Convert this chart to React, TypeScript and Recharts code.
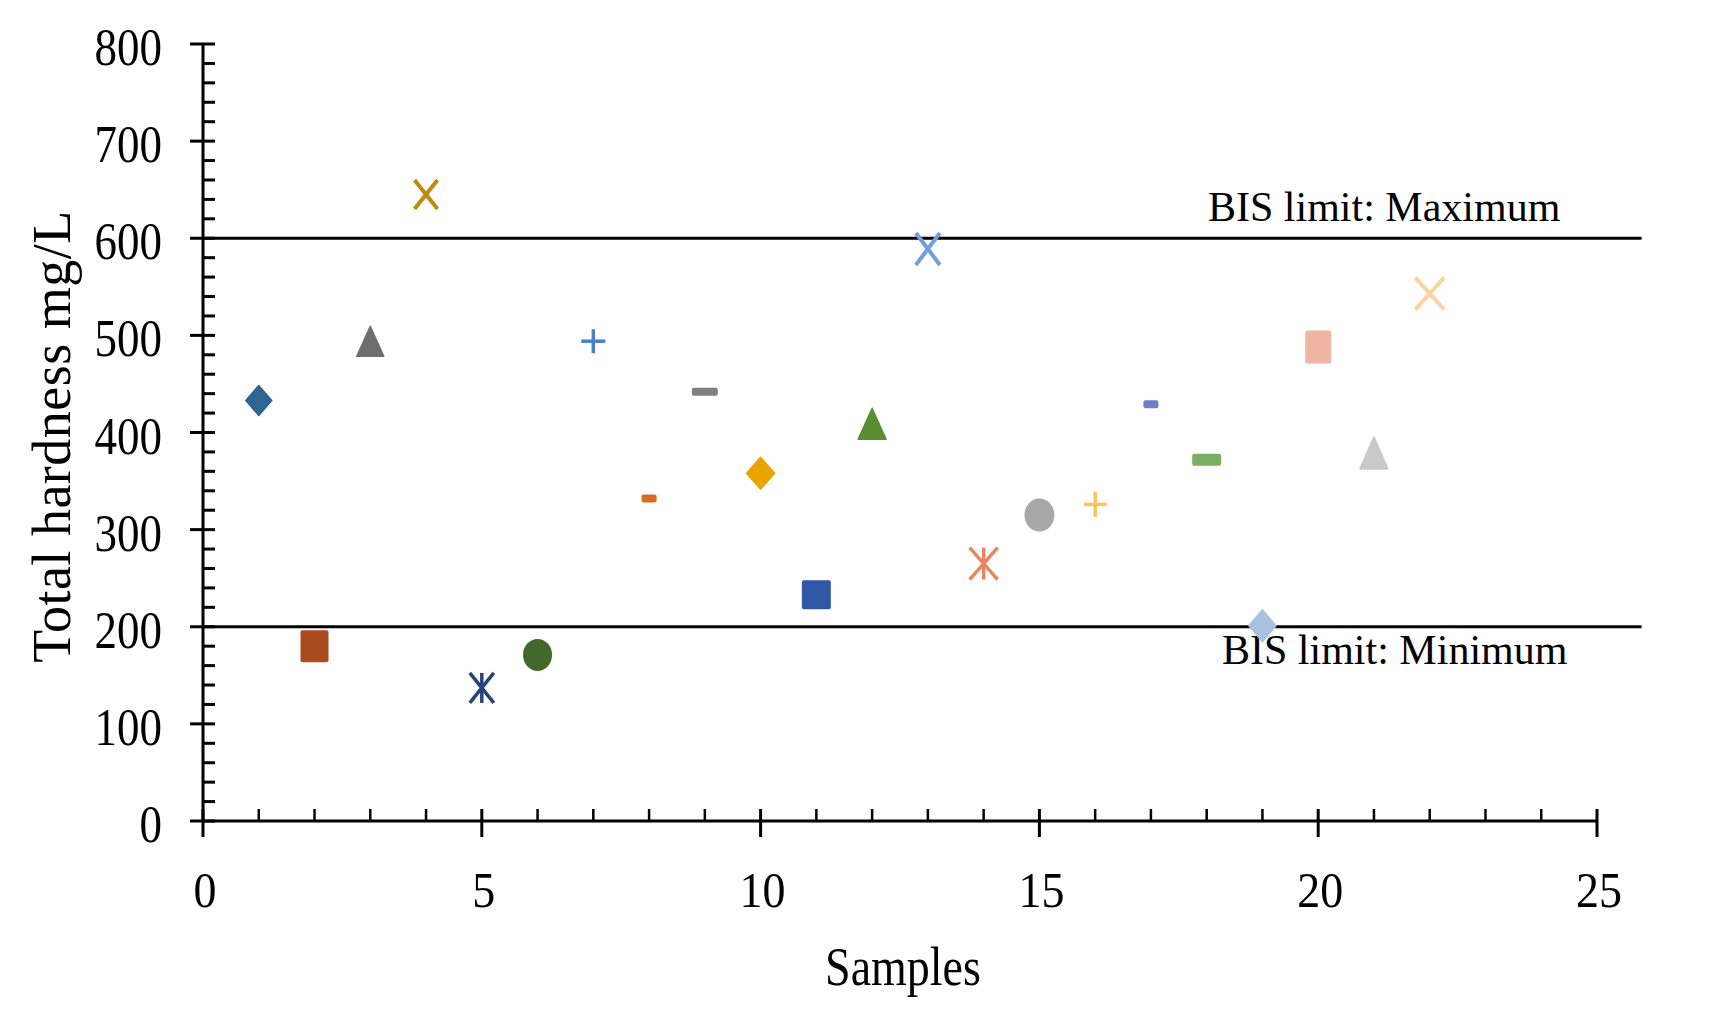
import React from 'react';
import { ScatterChart, Scatter, XAxis, YAxis, ReferenceLine } from 'recharts';

// ---------- data ----------
const SAMPLES = [1, 2, 3, 4, 5, 6, 7, 8, 9, 10, 11, 12, 13, 14, 15, 16, 17, 18, 19, 20, 21, 22];
const HARDNESS = [433, 180, 494, 645, 137, 171, 494, 332, 442, 358, 233, 409, 589, 265, 315, 326, 429, 372, 201, 488, 379, 543];

const X_TICKS = [0, 1, 2, 3, 4, 5, 6, 7, 8, 9, 10, 11, 12, 13, 14, 15, 16, 17, 18, 19, 20, 21, 22, 23, 24, 25];
const X_LABELED = [0, 5, 10, 15, 20, 25];
const Y_TICKS = [0, 20, 40, 60, 80, 100, 120, 140, 160, 180, 200, 220, 240, 260, 280, 300, 320, 340, 360, 380, 400,
  420, 440, 460, 480, 500, 520, 540, 560, 580, 600, 620, 640, 660, 680, 700, 720, 740, 760, 780, 800];
const Y_LABELED = [0, 100, 200, 300, 400, 500, 600, 700, 800];

const BIS_MAX = 600;
const BIS_MIN = 200;
const LIMIT_END_X = 25.8;
const LABEL_MAX = 'BIS limit: Maximum';
const LABEL_MIN = 'BIS limit: Minimum';
const X_TITLE = 'Samples';
const Y_TITLE = 'Total hardness mg/L';

// ---------- styles ----------
type Marker = { shape: string; color: string; w: number; h: number };
const MARKERS: Marker[] = [
  { shape: 'diamond', color: '#2E6593', w: 26, h: 30 },
  { shape: 'square', color: '#AA4B1E', w: 28, h: 32 },
  { shape: 'triangle', color: '#6E6E6E', w: 27, h: 30 },
  { shape: 'x', color: '#BF8A0F', w: 23, h: 29 },
  { shape: 'star', color: '#264478', w: 24, h: 30 },
  { shape: 'circle', color: '#43682B', w: 29, h: 32 },
  { shape: 'plus', color: '#4A80C8', w: 24, h: 24 },
  { shape: 'dash', color: '#D86A25', w: 15, h: 8 },
  { shape: 'dash', color: '#808080', w: 26, h: 8 },
  { shape: 'diamond', color: '#E8A500', w: 28, h: 32 },
  { shape: 'square', color: '#2F57A6', w: 29, h: 29 },
  { shape: 'triangle', color: '#5A8E32', w: 28, h: 31 },
  { shape: 'x', color: '#729FD8', w: 24, h: 32 },
  { shape: 'star', color: '#EB8460', w: 28, h: 32 },
  { shape: 'circle', color: '#A8A8A8', w: 30, h: 33 },
  { shape: 'plus', color: '#FFC35A', w: 23, h: 25 },
  { shape: 'dash', color: '#6C7FC6', w: 15, h: 8 },
  { shape: 'dash', color: '#7BAF68', w: 29, h: 12 },
  { shape: 'diamond', color: '#A9C0E0', w: 27, h: 32 },
  { shape: 'square', color: '#F0B5A2', w: 26, h: 33 },
  { shape: 'triangle', color: '#C9C9C9', w: 28, h: 32 },
  { shape: 'x', color: '#F9D49E', w: 29, h: 32 },
];

const FONT = '"Liberation Serif", "Times New Roman", serif';

function renderMarker(m: Marker) {
  return (props: any) => {
    const { cx, cy } = props;
    if (cx == null || cy == null) return <g />;
    const hw = m.w / 2;
    const hh = m.h / 2;
    switch (m.shape) {
      case 'diamond':
        return (
          <path
            d={`M${cx},${cy - hh} L${cx + hw},${cy} L${cx},${cy + hh} L${cx - hw},${cy} Z`}
            fill={m.color}
            stroke={m.color}
            strokeWidth={1.5}
            strokeLinejoin="round"
          />
        );
      case 'square':
        return <rect x={cx - hw} y={cy - hh} width={m.w} height={m.h} rx={2} fill={m.color} />;
      case 'triangle':
        return (
          <path
            d={`M${cx},${cy - hh} L${cx + hw},${cy + hh} L${cx - hw},${cy + hh} Z`}
            fill={m.color}
            stroke={m.color}
            strokeWidth={1.5}
            strokeLinejoin="round"
          />
        );
      case 'circle':
        return <ellipse cx={cx} cy={cy} rx={hw} ry={hh} fill={m.color} />;
      case 'dash':
        return <rect x={cx - hw} y={cy - hh} width={m.w} height={m.h} rx={2} fill={m.color} />;
      case 'x':
        return (
          <g stroke={m.color} strokeWidth={4} strokeLinecap="butt">
            <line x1={cx - hw} y1={cy - hh} x2={cx + hw} y2={cy + hh} />
            <line x1={cx - hw} y1={cy + hh} x2={cx + hw} y2={cy - hh} />
          </g>
        );
      case 'star':
        return (
          <g stroke={m.color} strokeWidth={3.5}>
            <line x1={cx - hw} y1={cy - hh} x2={cx + hw} y2={cy + hh} />
            <line x1={cx - hw} y1={cy + hh} x2={cx + hw} y2={cy - hh} />
            <line x1={cx} y1={cy - hh} x2={cx} y2={cy + hh} />
          </g>
        );
      case 'plus':
      default:
        return (
          <g stroke={m.color} strokeWidth={3.5}>
            <line x1={cx - hw} y1={cy} x2={cx + hw} y2={cy} />
            <line x1={cx} y1={cy - hh} x2={cx} y2={cy + hh} />
          </g>
        );
    }
  };
}

const XTick = (props: any) => {
  const { x, y, payload } = props;
  const v = payload.value;
  const major = X_LABELED.includes(v);
  return (
    <g>
      {major ? (
        <line x1={x} y1={y - 12} x2={x} y2={y + 16} stroke="#000" strokeWidth={3} />
      ) : (
        <line x1={x} y1={y - 12} x2={x} y2={y} stroke="#000" strokeWidth={2.5} />
      )}
      {major && (
        <text
          transform={`translate(${x + 2},${y + 86}) scale(1,1.1)`}
          textAnchor="middle"
          fontFamily={FONT}
          fontSize={46}
          fill="#000"
        >
          {v}
        </text>
      )}
    </g>
  );
};

const YTick = (props: any) => {
  const { x, y, payload } = props;
  const v = payload.value;
  const major = Y_LABELED.includes(v);
  return (
    <g>
      {major ? (
        <line x1={x - 13} y1={y} x2={x + 12} y2={y} stroke="#000" strokeWidth={3} />
      ) : (
        <line x1={x} y1={y} x2={x + 12} y2={y} stroke="#000" strokeWidth={3} />
      )}
      {major && (
        <text
          transform={`translate(${x - 41},${y + 21}) scale(1,1.15)`}
          textAnchor="end"
          fontFamily={FONT}
          fontSize={45}
          fill="#000"
        >
          {v}
        </text>
      )}
    </g>
  );
};

const XTitle = (props: any) => {
  const vb = props.viewBox || { x: 203, y: 821, width: 1394, height: 205 };
  return (
    <text
      transform={`translate(${vb.x + vb.width / 2 + 3},${vb.y + 164}) scale(1,1.2)`}
      textAnchor="middle"
      fontFamily={FONT}
      fontSize={46}
      fill="#000"
    >
      {X_TITLE}
    </text>
  );
};

const YTitle = (props: any) => {
  const vb = props.viewBox || { x: 0, y: 44, width: 203, height: 777 };
  return (
    <text
      transform={`translate(${vb.x + 70},${vb.y + vb.height / 2 + 4}) rotate(-90)`}
      textAnchor="middle"
      fontFamily={FONT}
      fontSize={54}
      letterSpacing={0.5}
      fill="#000"
    >
      {Y_TITLE}
    </text>
  );
};

const makeLimitLabel = (text: string, dx: number, dy: number) => (props: any) => {
  const vb = props.viewBox || { x: 203, y: 0 };
  return (
    <text x={vb.x + dx} y={vb.y + dy} fontFamily={FONT} fontSize={42} fill="#000">
      {text}
    </text>
  );
};

export default function App() {
  return (
    <div style={{ position: 'absolute', left: 0, top: 0, width: 1709, height: 1026, background: '#fff' }}>
      <ScatterChart width={1709} height={1026} margin={{ top: 44, right: 112, bottom: 0, left: 0 }}>
        <XAxis
          type="number"
          dataKey="x"
          domain={[0, 25]}
          ticks={X_TICKS}
          interval={0}
          tickSize={0}
          tickMargin={0}
          tickLine={false}
          axisLine={{ stroke: '#000', strokeWidth: 3 }}
          tick={<XTick />}
          height={205}
          label={{ content: <XTitle /> }}
          allowDecimals={false}
        />
        <YAxis
          type="number"
          dataKey="y"
          domain={[0, 800]}
          ticks={Y_TICKS}
          interval={0}
          tickSize={0}
          tickMargin={0}
          tickLine={false}
          axisLine={{ stroke: '#000', strokeWidth: 3 }}
          tick={<YTick />}
          width={203}
          label={{ content: <YTitle /> }}
        />
        <ReferenceLine
          segment={[{ x: 0, y: BIS_MAX }, { x: LIMIT_END_X, y: BIS_MAX }]}
          stroke="#000"
          strokeWidth={3}
          ifOverflow="visible"
          label={{ content: makeLimitLabel(LABEL_MAX, 1005, -17) }}
        />
        <ReferenceLine
          segment={[{ x: 0, y: BIS_MIN }, { x: LIMIT_END_X, y: BIS_MIN }]}
          stroke="#000"
          strokeWidth={3}
          ifOverflow="visible"
          label={{ content: makeLimitLabel(LABEL_MIN, 1019, 37) }}
        />
        {SAMPLES.map((s, i) => (
          <Scatter
            key={s}
            name={`Sample ${s}`}
            data={[{ x: s, y: HARDNESS[i] }]}
            shape={renderMarker(MARKERS[i])}
            isAnimationActive={false}
          />
        ))}
      </ScatterChart>
    </div>
  );
}
